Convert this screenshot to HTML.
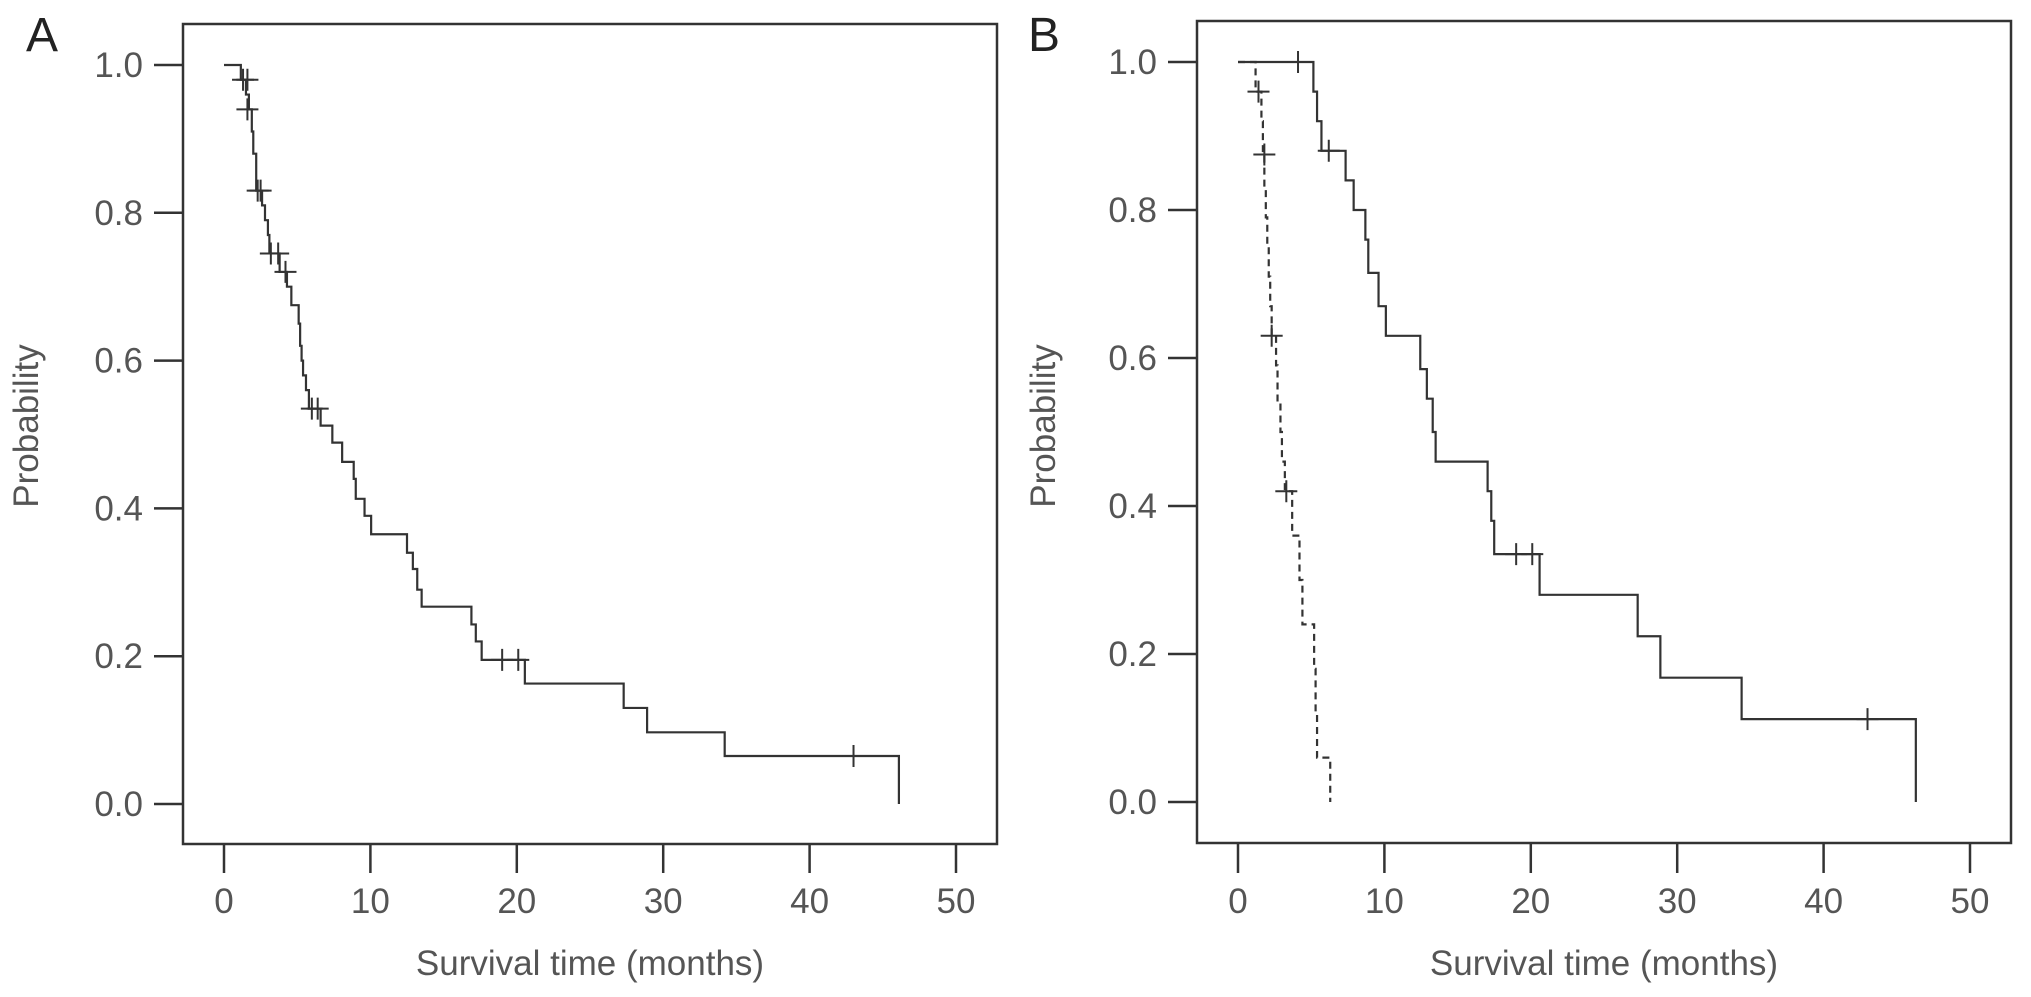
<!DOCTYPE html>
<html><head><meta charset="utf-8"><style>
html,body{margin:0;padding:0;background:#fff;}
svg{display:block;font-family:"Liberation Sans",Arial,sans-serif;}
</style></head><body>
<svg id="chart" width="2031" height="997" viewBox="0 0 2031 997"></svg>
<script>
const xTicks = [0,10,20,30,40,50];
const yTicks = [0,0.2,0.4,0.6,0.8,1.0];
const yTickLabels = ["0.0","0.2","0.4","0.6","0.8","1.0"];
// Panel A: step times and survival after each step
const aTimes = [0,1.15,1.5,1.7,1.9,2.0,2.2,2.6,2.8,3.0,3.1,3.8,4.3,4.6,5.1,5.2,5.3,5.4,5.6,5.8,6.6,7.4,8.07,8.86,9.0,9.6,10.05,12.5,12.9,13.2,13.5,16.9,17.2,17.6,20.55,27.3,28.9,34.2,46.1];
const aSurv  = [1.0,0.98,0.96,0.94,0.91,0.88,0.83,0.81,0.79,0.77,0.745,0.72,0.70,0.675,0.65,0.62,0.60,0.58,0.56,0.535,0.512,0.489,0.463,0.44,0.413,0.39,0.365,0.34,0.318,0.29,0.267,0.243,0.22,0.195,0.163,0.13,0.097,0.065,0.0];
const aCensT = [1.3,1.6,1.6,2.3,2.5,3.2,3.7,4.2,6.0,6.4,19.0,20.1,43.0];
const aCensS = [0.98,0.98,0.94,0.83,0.83,0.745,0.745,0.72,0.535,0.535,0.195,0.195,0.065];
// Panel B solid
const bTimes = [0,5.15,5.4,5.7,7.35,7.9,8.7,8.9,9.6,10.1,12.45,12.9,13.3,13.5,17.05,17.3,17.5,20.6,27.3,28.85,34.4,46.3];
const bSurv  = [1.0,0.96,0.92,0.88,0.84,0.80,0.76,0.715,0.67,0.63,0.585,0.545,0.50,0.46,0.42,0.38,0.335,0.28,0.224,0.168,0.112,0.0];
const bCensT = [4.1,6.2,19.0,20.1,43.0];
const bCensS = [1.0,0.88,0.335,0.335,0.112];
// Panel B dashed
const cTimes = [0,1.2,1.6,1.7,1.8,1.9,2.0,2.1,2.2,2.3,2.6,2.7,2.9,3.0,3.2,3.7,4.2,4.4,5.2,5.3,5.4,6.3];
const cSurv  = [1.0,0.96,0.92,0.875,0.83,0.79,0.75,0.71,0.67,0.63,0.59,0.54,0.50,0.46,0.42,0.36,0.30,0.24,0.18,0.12,0.06,0.0];
const cCensT = [1.4,1.8,2.3,3.3];
const cCensS = [0.96,0.875,0.63,0.42];

const NS="http://www.w3.org/2000/svg";
const svg=document.getElementById('chart');
function mk(tag,attrs,parent){const e=document.createElementNS(NS,tag);for(const k in attrs)e.setAttribute(k,attrs[k]);(parent||svg).appendChild(e);return e;}
const TXT="#555", LN="#333";

function panel(p){
  const g=mk('g',{});
  
  
  const X=v=>p.x0+(p.x50-p.x0)*v/50;
  const Y=v=>p.y0+(p.y1-p.y0)*v;
  const fr=mk('rect',{x:p.fl,y:p.ft,width:p.fr-p.fl,height:p.fb-p.ft,fill:'none',stroke:LN,'stroke-width':2.5},g);
  
  
  const lab=mk('text',{x:p.lx,y:51,'font-size':48,fill:'#222'},g);lab.textContent=p.letter;
  
  
  yTicks.forEach((t,i)=>{
    const y=Y(t);
    const tk=mk('line',{x1:p.fl-29,x2:p.fl,y1:y,y2:y,stroke:LN,'stroke-width':2.5},g);
    
    
    const tl=mk('text',{x:p.fl-40,y:y+12,'font-size':35,fill:TXT,'text-anchor':'end'},g);tl.textContent=yTickLabels[i];
    
    
  });
  xTicks.forEach(t=>{
    const x=X(t);
    const tk=mk('line',{x1:x,x2:x,y1:p.fb,y2:873,stroke:LN,'stroke-width':2.5},g);
    
    
    const tl=mk('text',{x:x,y:913,'font-size':35,fill:TXT,'text-anchor':'middle'},g);tl.textContent=String(t);
    
    
  });
  const xt=mk('text',{x:(X(0)+X(50))/2,y:975,'font-size':35,fill:TXT,'text-anchor':'middle'},g);xt.textContent="Survival time (months)";
  
  
  const yt=mk('text',{x:0,y:0,'font-size':35,fill:TXT,'text-anchor':'middle',transform:`translate(${p.ytx},426) rotate(-90)`},g);yt.textContent="Probability";
  
  
  p.series.forEach(s=>{
    let d=`M${X(s.t[0])},${Y(s.s[0])}`;
    for(let i=1;i<s.t.length;i++){d+=` H${X(s.t[i])} V${Y(s.s[i])}`;}
    const path=mk('path',{d:d,fill:'none',stroke:LN,'stroke-width':2.2,'stroke-dasharray':s.dash||'none'},g);
    
    
    s.ct.forEach((t,i)=>{
      const cx=X(t),cy=Y(s.cs[i]);
      const c=mk('path',{d:`M${cx-11},${cy} H${cx+11} M${cx},${cy-11} V${cy+11}`,stroke:LN,'stroke-width':2},g);
      
      
    });
  });
}
panel({name:'panel-a',letter:'A',lx:26,fl:183,fr:997,ft:24,fb:844,x0:224,x50:956,y0:804,y1:65,ytx:38,
  series:[{name:'survival-curve-all',t:aTimes,s:aSurv,ct:aCensT,cs:aCensS}]});
panel({name:'panel-b',letter:'B',lx:1028,fl:1197,fr:2011,ft:21,fb:843,x0:1238,x50:1970,y0:802,y1:62,ytx:1055,
  series:[{name:'survival-curve-solid',t:bTimes,s:bSurv,ct:bCensT,cs:bCensS},
          {name:'survival-curve-dashed',t:cTimes,s:cSurv,ct:cCensT,cs:cCensS,dash:'7,5'}]});
</script>
</body></html>
